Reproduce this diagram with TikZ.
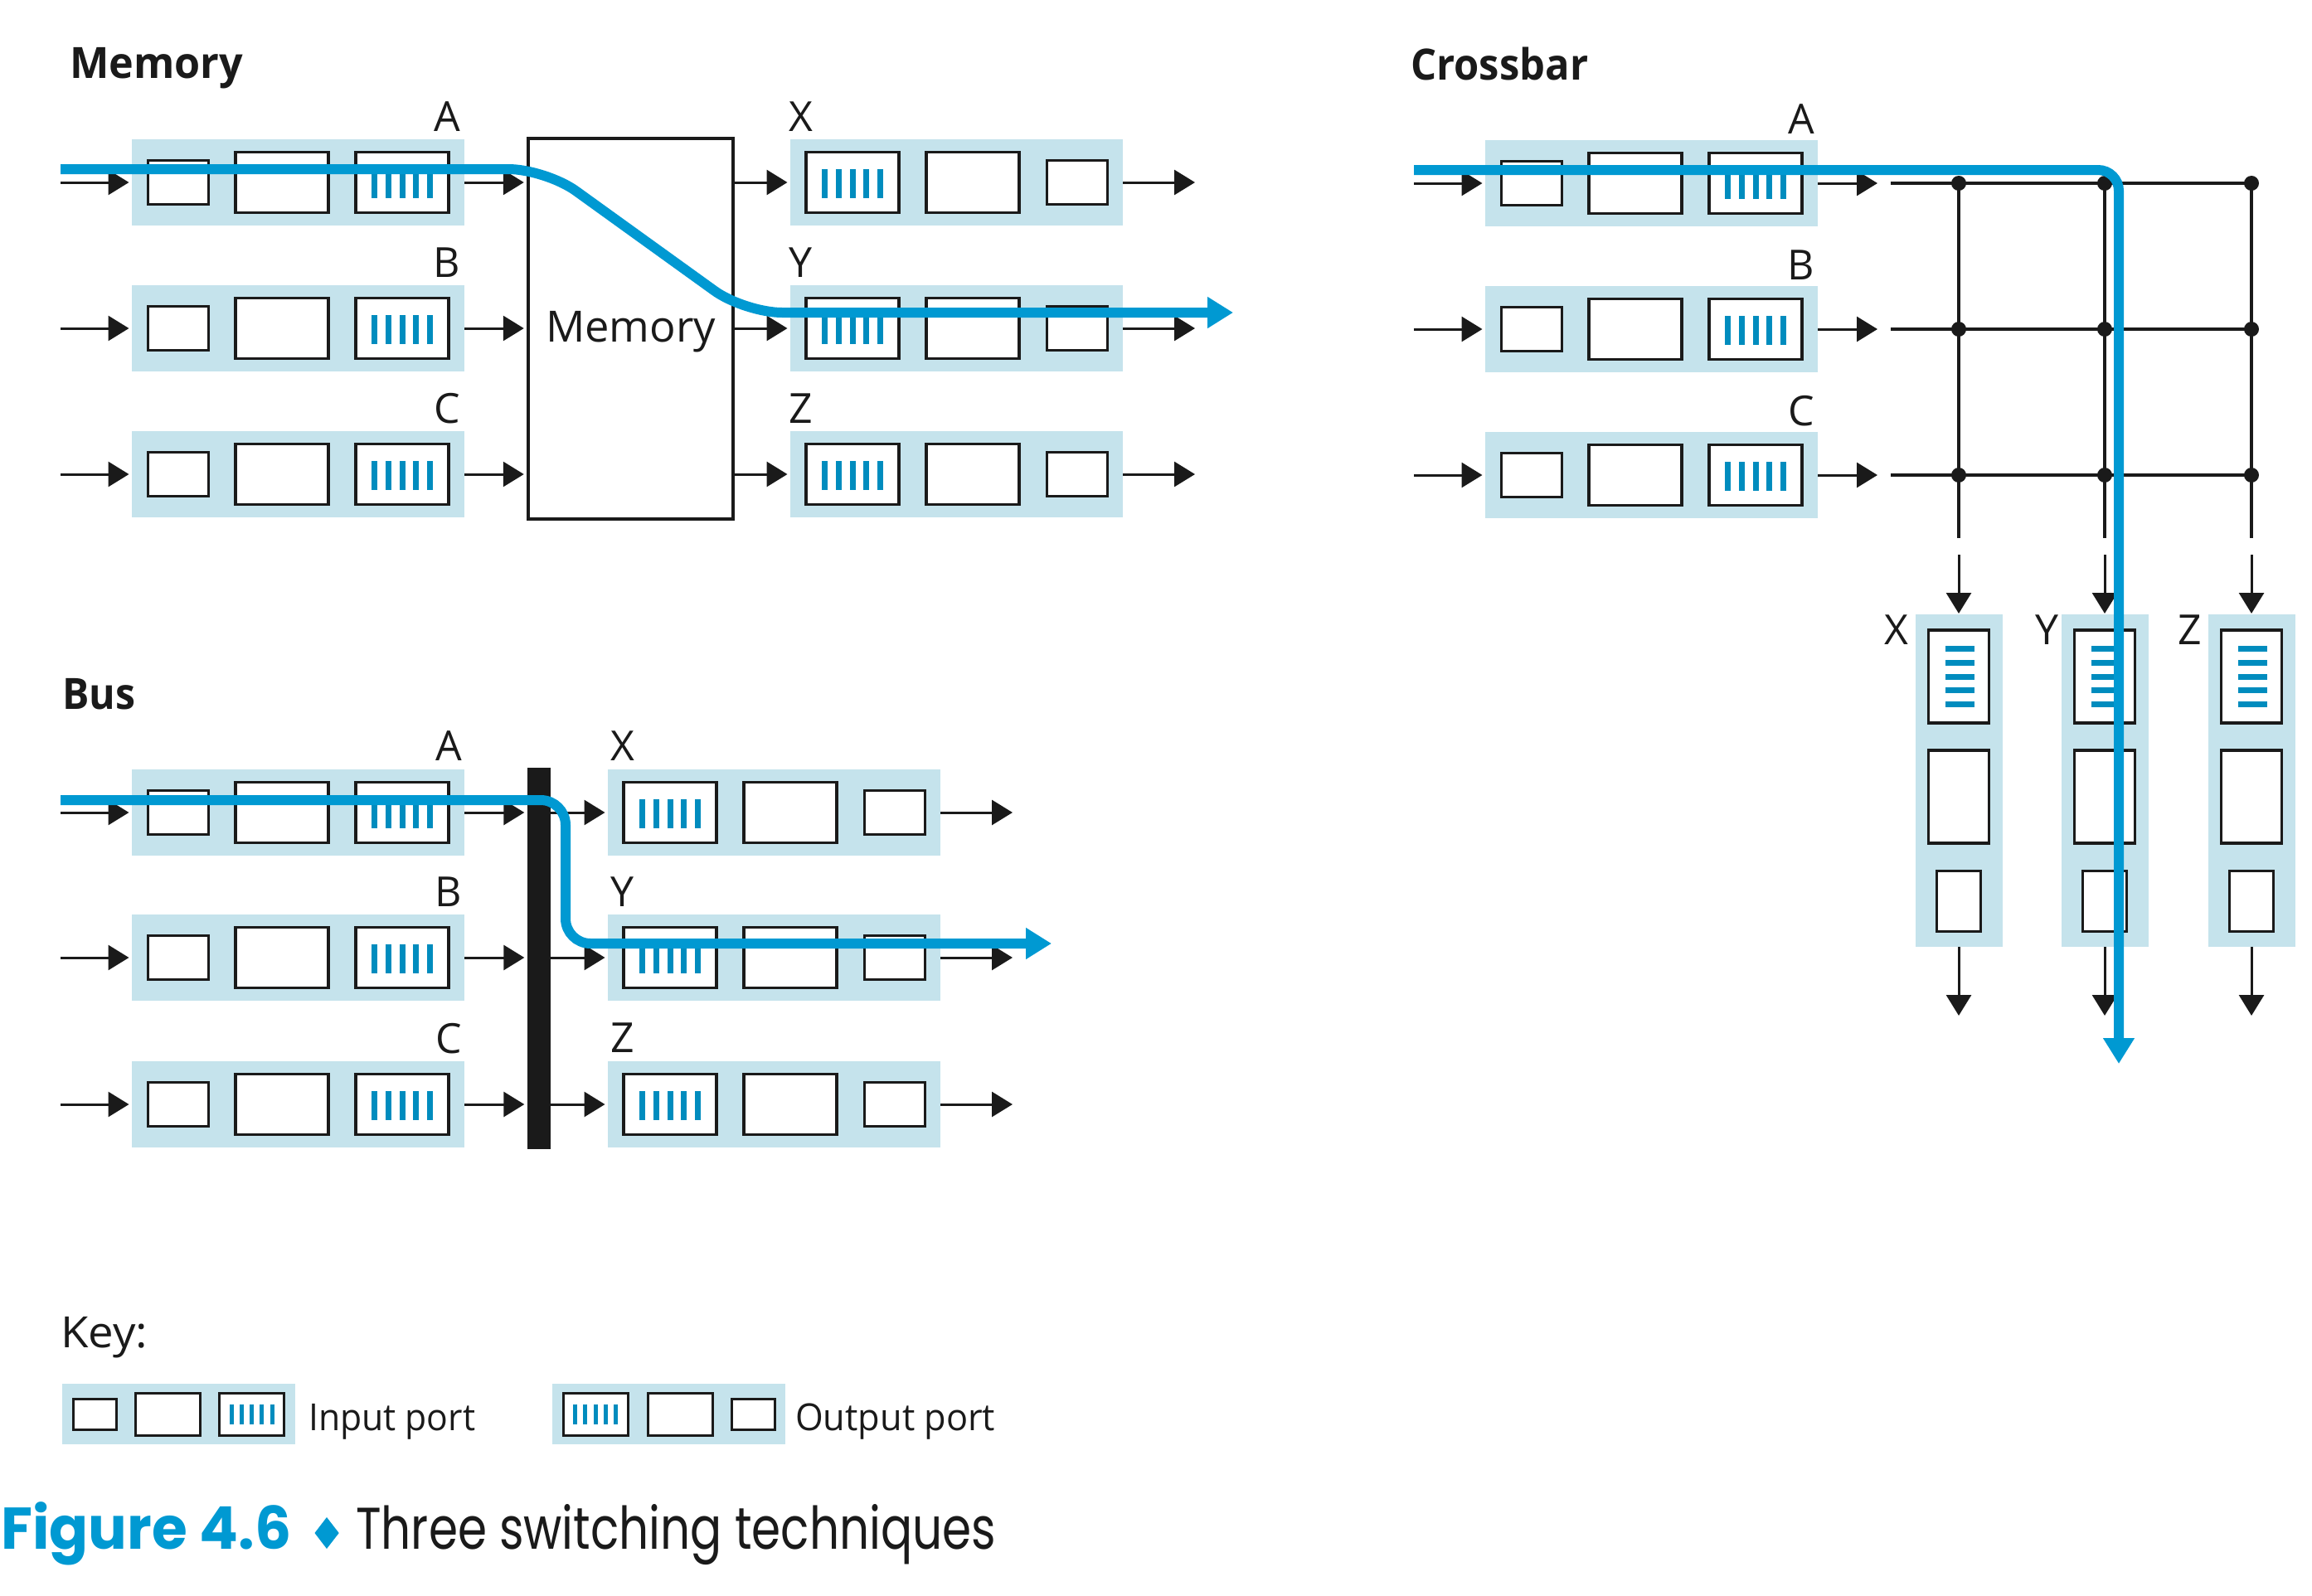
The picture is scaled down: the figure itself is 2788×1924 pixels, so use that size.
\documentclass[tikz,border=0pt]{standalone}
\usepackage{fontspec}
\setmainfont{Open Sans}
\newfontfamily\capfont{Poppins}
\usepackage{graphicx}
\usetikzlibrary{arrows.meta,calc}
\definecolor{portbg}{RGB}{197,227,236}
\definecolor{flowblue}{RGB}{0,153,210}
\definecolor{stripeblue}{RGB}{0,140,190}
\definecolor{ink}{RGB}{26,26,26}
\tikzset{
 portrect/.style={fill=portbg, draw=none, inner sep=0pt, minimum width=401pt, minimum height=104pt},
 vportrect/.style={fill=portbg, draw=none, inner sep=0pt, minimum width=105pt, minimum height=401pt},
 keyrect/.style={fill=portbg, draw=none, inner sep=0pt, minimum width=281pt, minimum height=73pt},
 sbox/.style={draw=ink, fill=white, line width=3.5pt, inner sep=0pt, minimum width=73pt, minimum height=53pt},
 mbox/.style={draw=ink, fill=white, line width=3.5pt, inner sep=0pt, minimum width=112pt, minimum height=73pt},
 vsbox/.style={sbox, minimum width=53pt, minimum height=73pt},
 vmbox/.style={mbox, minimum width=73pt, minimum height=112pt},
 ksbox/.style={sbox, line width=3pt, minimum width=52pt, minimum height=37pt},
 kmbox/.style={mbox, line width=3pt, minimum width=78pt, minimum height=51pt},
 stripeln/.style={draw=stripeblue, line width=7pt},
 kstripeln/.style={draw=stripeblue, line width=5pt},
 arr/.style={draw=ink, line width=3pt, -{Triangle[length=25pt,width=30pt]}},
 arrn/.style={arr, shorten >=3.5pt},
 gridln/.style={draw=ink, line width=4pt},
 xdot/.style={circle, fill=ink, inner sep=0pt, minimum size=18pt},
 flowline/.style={draw=flowblue, line width=12pt, -{Triangle[length=31pt,width=36pt]}},
 lbl/.style={inner sep=0pt, text=ink, font=\fontsize{50}{50}\selectfont},
 txt/.style={inner sep=0pt, text=ink},
}
\newcommand{\InPort}[3]{%
 \node[portrect, anchor=west] (#1) at (#2,#3) {};
 \node[sbox] (#1-s) at ($(#1.west)+(55.75,0)$) {};
 \node[mbox] (#1-m) at ($(#1.west)+(181,0)$) {};
 \node[mbox] (#1-q) at ($(#1.west)+(326,0)$) {};
 \foreach \d in {-33.5,-16.75,0,16.75,33.5}{\draw[stripeln] ($(#1-q.center)+(\d,-16)$) -- ++(0,35);}
}
\newcommand{\OutPort}[3]{%
 \node[portrect, anchor=west] (#1) at (#2,#3) {};
 \node[mbox] (#1-q) at ($(#1.west)+(75,0)$) {};
 \node[mbox] (#1-m) at ($(#1.west)+(220,0)$) {};
 \node[sbox] (#1-s) at ($(#1.west)+(346,0)$) {};
 \foreach \d in {-33.5,-16.75,0,16.75,33.5}{\draw[stripeln] ($(#1-q.center)+(\d,-16)$) -- ++(0,35);}
}
\newcommand{\VPort}[3]{%
 \node[vportrect, anchor=north] (#1) at (#2,#3) {};
 \node[vmbox] (#1-q) at ($(#1.north)+(0,75)$) {};
 \node[vmbox] (#1-m) at ($(#1.north)+(0,220)$) {};
 \node[vsbox] (#1-s) at ($(#1.north)+(0,346)$) {};
 \foreach \d in {-33.5,-16.75,0,16.75,33.5}{\draw[stripeln] ($(#1-q.center)+(-16,\d)$) -- ++(35,0);}
}
\newcommand{\KeyIn}[3]{%
 \node[keyrect, anchor=west] (#1) at (#2,#3) {};
 \node[ksbox] (#1-s) at ($(#1.west)+(39,0)$) {};
 \node[kmbox] (#1-m) at ($(#1.west)+(127,0)$) {};
 \node[kmbox] (#1-q) at ($(#1.west)+(228.7,0)$) {};
 \foreach \d in {-24.5,-12.25,0,12.25,24.5}{\draw[kstripeln] ($(#1-q.center)+(\d,-12)$) -- ++(0,24);}
}
\newcommand{\KeyOut}[3]{%
 \node[keyrect, anchor=west] (#1) at (#2,#3) {};
 \node[kmbox] (#1-q) at ($(#1.west)+(52,0)$) {};
 \node[kmbox] (#1-m) at ($(#1.west)+(154,0)$) {};
 \node[ksbox] (#1-s) at ($(#1.west)+(242,0)$) {};
 \foreach \d in {-24.5,-12.25,0,12.25,24.5}{\draw[kstripeln] ($(#1-q.center)+(\d,-12)$) -- ++(0,24);}
}
\begin{document}
\begin{tikzpicture}[x=1pt,y=-1pt]
\useasboundingbox (0,0) rectangle (2788,1924);

% ================= MEMORY =================
\node[txt, anchor=base west] (ttlmem) at (84,95) {\resizebox{209pt}{\height}{\bfseries\fontsize{52}{52}\selectfont Memory}};
\InPort{mA}{159}{220}
\InPort{mB}{159}{396}
\InPort{mC}{159}{572}
\node[draw=ink, line width=3.5pt, fill=white, inner sep=0pt, minimum width=247pt, minimum height=459pt] (mem) at (760.5,396.5) {};
\node[txt, anchor=base] (memlbl) at (760.5,412) {\resizebox{205pt}{\height}{\fontsize{52}{52}\selectfont Memory}};
\OutPort{mX}{953}{220}
\OutPort{mY}{953}{396}
\OutPort{mZ}{953}{572}
\node[lbl, anchor=base east] (lmA) at (555,158) {A};
\node[lbl, anchor=base east] (lmB) at (555,334) {B};
\node[lbl, anchor=base east] (lmC) at (555,510) {C};
\node[lbl, anchor=base west] (lmX) at (951,158) {X};
\node[lbl, anchor=base west] (lmY) at (951,334) {Y};
\node[lbl, anchor=base west] (lmZ) at (951,510) {Z};
\foreach \r/\o/\y in {A/X/220,B/Y/396,C/Z/572}{
 \coordinate (min\r) at (73,\y);
 \coordinate (mout\o) at (1441,\y);
 \draw[arrn] (min\r) -- (m\r.west);
 \draw[arrn] (m\r.east) -- (mem.west |- m\r.east);
 \draw[arrn] (mem.east |- m\o.west) -- (m\o.west);
 \draw[arr] (m\o.east) -- (mout\o);
}

% ================= CROSSBAR =================
\node[txt, anchor=base west] (ttlcross) at (1701,97) {\resizebox{214pt}{\height}{\bfseries\fontsize{52}{52}\selectfont Crossbar}};
\InPort{cA}{1791}{221}
\InPort{cB}{1791}{397}
\InPort{cC}{1791}{573}
\node[lbl, anchor=base east] (lcA) at (2188,161) {A};
\node[lbl, anchor=base east] (lcB) at (2188,337) {B};
\node[lbl, anchor=base east] (lcC) at (2188,513) {C};
\foreach \r/\y/\i in {A/221/1,B/397/2,C/573/3}{
 \coordinate (cin\r) at (1705,\y);
 \coordinate (cend\r) at (2264,\y);
 \coordinate (cg\r) at (2280,\y);
 \draw[arrn] (cin\r) -- (c\r.west);
 \draw[arr] (c\r.east) -- (cend\r);
 \node[xdot] (g\i1) at (2362,\y) {};
 \node[xdot] (g\i2) at (2538,\y) {};
 \node[xdot] (g\i3) at (2715,\y) {};
 \draw[gridln] (cg\r) -- (g\i3.center);
}
\VPort{cX}{2362}{741}
\VPort{cY}{2538}{741}
\VPort{cZ}{2715}{741}
\node[lbl, anchor=base east] (lcX) at (2302,777) {X};
\node[lbl, anchor=base east] (lcY) at (2483,777) {Y};
\node[lbl, anchor=base east] (lcZ) at (2655,777) {Z};
\foreach \o/\x/\j in {X/2362/1,Y/2538/2,Z/2715/3}{
 \coordinate (vend\o) at (\x,649);
 \coordinate (vst\o) at (\x,669);
 \coordinate (vout\o) at (\x,1225);
 \draw[gridln] (g1\j.center) -- (g3\j.center) -- (vend\o);
 \draw[arr, shorten >=1pt] (vst\o) -- (c\o.north);
 \draw[arr] (c\o.south) -- (vout\o);
}

% ================= BUS =================
\node[txt, anchor=base west] (ttlbus) at (75,855.5) {\resizebox{88pt}{\height}{\bfseries\fontsize{52}{52}\selectfont Bus}};
\InPort{bA}{159}{980}
\InPort{bB}{159}{1155}
\InPort{bC}{159}{1332}
\node[fill=ink, inner sep=0pt, minimum width=28pt, minimum height=460pt] (bus) at (650,1155.5) {};
\OutPort{bX}{733}{980}
\OutPort{bY}{733}{1155}
\OutPort{bZ}{733}{1332}
\node[lbl, anchor=base east] (lbA) at (557,917.5) {A};
\node[lbl, anchor=base east] (lbB) at (557,1093) {B};
\node[lbl, anchor=base east] (lbC) at (557,1270) {C};
\node[lbl, anchor=base west] (lbX) at (736,917) {X};
\node[lbl, anchor=base west] (lbY) at (736,1093) {Y};
\node[lbl, anchor=base west] (lbZ) at (736,1269) {Z};
\foreach \r/\o/\y in {A/X/980,B/Y/1155,C/Z/1332}{
 \coordinate (bin\r) at (73,\y);
 \coordinate (bout\o) at (1221,\y);
 \draw[arrn] (bin\r) -- (b\r.west);
 \draw[arrn] (b\r.east) -- (bus.west |- b\r.east);
 \draw[arrn] (bus.east |- b\o.west) -- (b\o.west);
 \draw[arr] (b\o.east) -- (bout\o);
}

% ================= FLOWS =================
\coordinate (fm0) at (73,204);
\coordinate (fm1) at (658,204);
\coordinate (fm2) at (898,377);
\coordinate (fm3) at (1487,377);
\draw[flowline, rounded corners=45pt] (fm0) -- (fm1) -- (fm2) -- (fm3);
\coordinate (fc0) at (1705,205);
\coordinate (fc1) at (2555,205);
\coordinate (fc2) at (2555,1283);
\draw[flowline, rounded corners=25pt] (fc0) -- (fc1) -- (fc2);
\coordinate (fb0) at (73,965);
\coordinate (fb1) at (682,965);
\coordinate (fb2) at (682,1138);
\coordinate (fb3) at (1268,1138);
\draw[flowline, rounded corners=30pt] (fb0) -- (fb1) -- (fb2) -- (fb3);

% ================= KEY =================
\node[txt, anchor=base west] (keyttl) at (73,1625) {\resizebox{105pt}{\height}{\fontsize{52}{52}\selectfont Key:}};
\KeyIn{kin}{75}{1705.5}
\KeyOut{kout}{666}{1705.5}
\node[txt, anchor=base west] (kinlbl) at (372,1725) {\resizebox{201pt}{\height}{\fontsize{45}{45}\selectfont Input port}};
\node[txt, anchor=base west] (koutlbl) at (959,1725) {\resizebox{241pt}{\height}{\fontsize{45}{45}\selectfont Output port}};

% ================= CAPTION =================
\node[anchor=base west, inner sep=0pt, text=flowblue] (figno) at (1,1868) {\resizebox{350pt}{\height}{\capfont\bfseries\fontsize{71}{71}\selectfont Figure 4.6}};
\fill[flowblue] (394,1830) -- (408.7,1849) -- (394,1868) -- (379.5,1849) -- cycle;
\node[anchor=base west, inner sep=0pt, text=ink] (capt) at (429,1868) {\resizebox{772pt}{\height}{\capfont\fontsize{71}{71}\selectfont Three switching techniques}};
\end{tikzpicture}
\end{document}
